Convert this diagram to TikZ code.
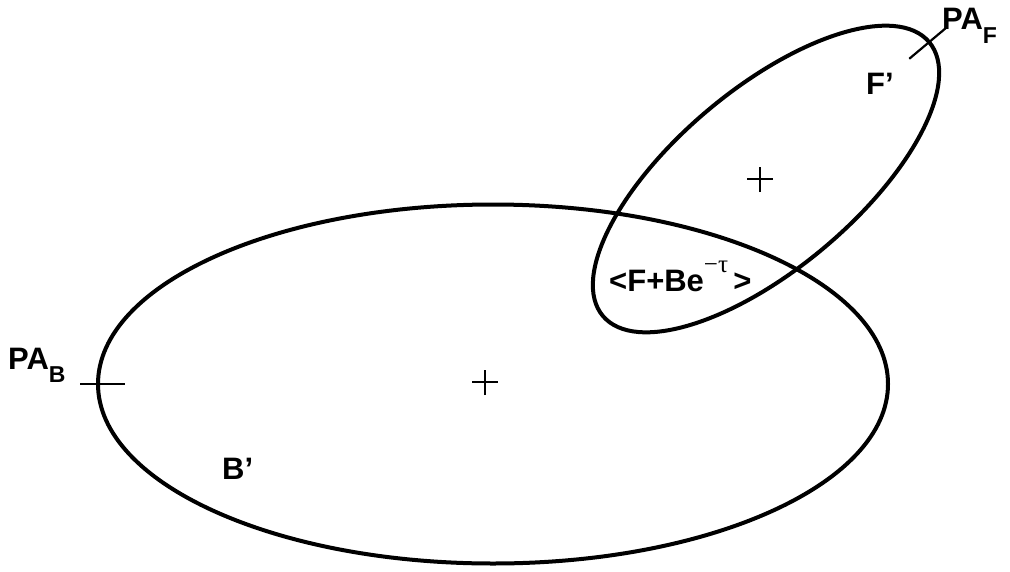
\documentclass[tikz,border=0pt]{standalone}
\usepackage{fontspec}
\setmainfont{Liberation Sans}
\newfontfamily\grk{Liberation Serif}
\usetikzlibrary{shapes.geometric}
\begin{document}
\begin{tikzpicture}[x=1pt,y=-1pt,
  lbl/.style={font=\fontsize{31}{31}\selectfont\bfseries, anchor=base west, inner sep=0pt},
  ell/.style={draw, ellipse, line width=4pt, inner sep=0pt, outer sep=0pt},
  thinline/.style={line width=2.2pt}]
\useasboundingbox (0,0) rectangle (1010,571);
\node[ell, minimum width=790pt, minimum height=359pt] (B) at (493,384) {};
\node[ell, rotate=40, minimum width=426pt, minimum height=180pt] (F) at (766,179) {};
% principal-axis ticks
\draw[thinline] ([xshift=-18pt]B.west) -- ([xshift=27pt]B.west);
\draw[thinline] ([shift={(40:23pt)}]F.east) -- ([shift={(220:26pt)}]F.east);
% centre marks
\coordinate (cB) at (485,382);
\coordinate (cF) at (760,179);
\draw[thinline] ([xshift=-13pt]cB) -- ([xshift=13pt]cB);
\draw[thinline] ([yshift=-13pt]cB) -- ([yshift=12pt]cB);
\draw[thinline] ([xshift=-13pt]cF) -- ([xshift=13pt]cF);
\draw[thinline] ([yshift=-13pt]cF) -- ([yshift=12pt]cF);
% labels
\node[lbl] (paB) at (8,369) {PA\raisebox{-13pt}{\fontsize{23}{23}\selectfont B}};
\node[lbl] (bp) at (222,479) {B’};
\node[lbl] (fp) at (866,94) {F’};
\node[lbl] (paF) at (942,29) {PA\raisebox{-14pt}{\fontsize{23}{23}\selectfont F}};
\node[lbl] (mix) at (609,291) {<F+Be\raisebox{19pt}{\fontsize{25}{25}\selectfont\mdseries\grk −τ}\,>};
\end{tikzpicture}
\end{document}
